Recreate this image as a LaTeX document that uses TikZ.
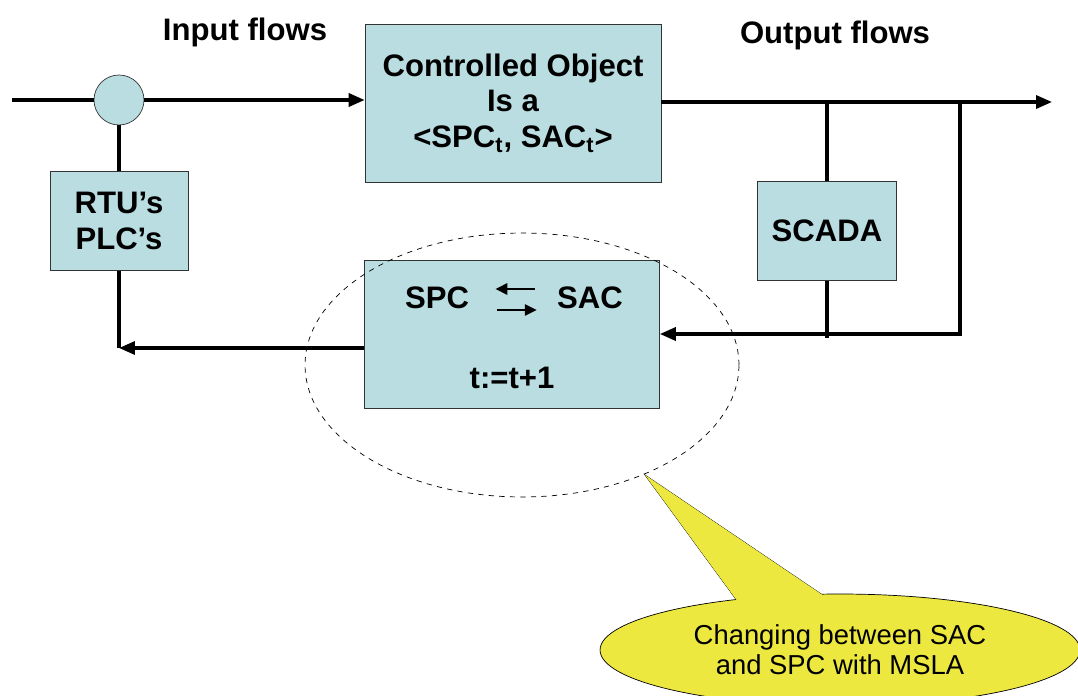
\documentclass[tikz,border=0pt]{standalone}
\usepackage{fontspec}
\setmainfont{Liberation Sans}
\usetikzlibrary{arrows.meta,shapes.geometric}

\definecolor{boxblue}{RGB}{185,221,225}
\definecolor{noteyellow}{RGB}{237,232,64}

\tikzset{
  block/.style={draw=black!80,fill=boxblue,align=center,font=\fontsize{17.7}{20.4}\selectfont\bfseries},
  title/.style={font=\fontsize{17.7}{20.4}\selectfont\bfseries},
  flow/.style={line width=1.9pt},
  flowto/.style={line width=1.9pt,-{Triangle[length=3.2mm,width=2.6mm]}},
}

\begin{document}
\begin{tikzpicture}[x=0.02cm,y=-0.02cm]
\useasboundingbox (0,0) rectangle (1078,696);

% titles
\node[title] (inTitle) at (245,32) {Input flows};
\node[title] (outTitle) at (835,35) {Output flows};

% blocks
\node[block,minimum width=5.92cm,minimum height=3.16cm] (object) at (513,103)
  {Controlled Object\\Is a\\<SPC\textsubscript{t}, SAC\textsubscript{t}>};
\node[circle,draw=black!80,fill=boxblue,minimum size=1cm,inner sep=0] (sum) at (119,100) {};
\node[block,minimum width=2.76cm,minimum height=1.98cm] (rtu) at (119,221) {RTU’s\\PLC’s};
\node[block,minimum width=2.78cm,minimum height=1.98cm] (scada) at (827,231) {SCADA};
\node[block,minimum width=5.9cm,minimum height=2.96cm] (mode) at (512,334) {};

% text in the mode block
\node[title,inner sep=0] (spc) at (437,298) {SPC};
\node[title,inner sep=0] (sac) at (590,298) {SAC};
\node[title,inner sep=0] (step) at (512,378) {t:=t+1};
\draw[line width=1.6pt,-{Triangle[length=2.4mm,width=2.2mm]},shorten <=0.44cm,shorten >=0.52cm]
  ([yshift=0.18cm]sac.west) -- ([yshift=0.18cm]spc.east);
\draw[line width=1.6pt,-{Triangle[length=2.4mm,width=2.2mm]},shorten <=0.56cm,shorten >=0.4cm]
  ([yshift=-0.24cm]spc.east) -- ([yshift=-0.24cm]sac.west);

% coordinates
\coordinate (start) at (12,100);
\coordinate (out) at (1052,102);
\coordinate (tapA) at (827,102);
\coordinate (tapB) at (960,102);
\coordinate (back) at (960,334);
\coordinate (corner) at (119,348);

% input side
\draw[flow] (start) -- (sum.west);
\draw[flowto] (sum.east) -- (object.west |- sum.east);
\draw[flow] (sum.south) -- (rtu.north);
\draw[flow] (rtu.south) -- (corner);
\draw[flowto] (mode.west |- corner) -- (corner);

% output side
\draw[line width=2.6pt] (object.east |- out) -- (985,102);
\draw[flowto] (985,102) -- (out);
\draw[flow] (tapA) -- (scada.north);
\draw[flow] (scada.south) -- (827,338);
\draw[flowto] (tapB) -- (back) -- (mode.east |- back);

% dashed ring
\draw[dashed,thin] (522,365) ellipse [x radius=4.34cm,y radius=2.64cm];

% callout
\coordinate (tip) at (645,475);
\draw[fill=noteyellow,thin] (tip) -- (738,602) -- (827,598) -- cycle;
\node[ellipse,draw,thin,fill=noteyellow,minimum width=9.6cm,minimum height=2.24cm,align=center,
  font=\fontsize{15.6}{17}\selectfont] (note) at (840,650) {Changing between SAC\\and SPC with MSLA};
\fill[noteyellow] (tip) -- (738,602) -- (827,598) -- cycle;
\end{tikzpicture}
\end{document}
